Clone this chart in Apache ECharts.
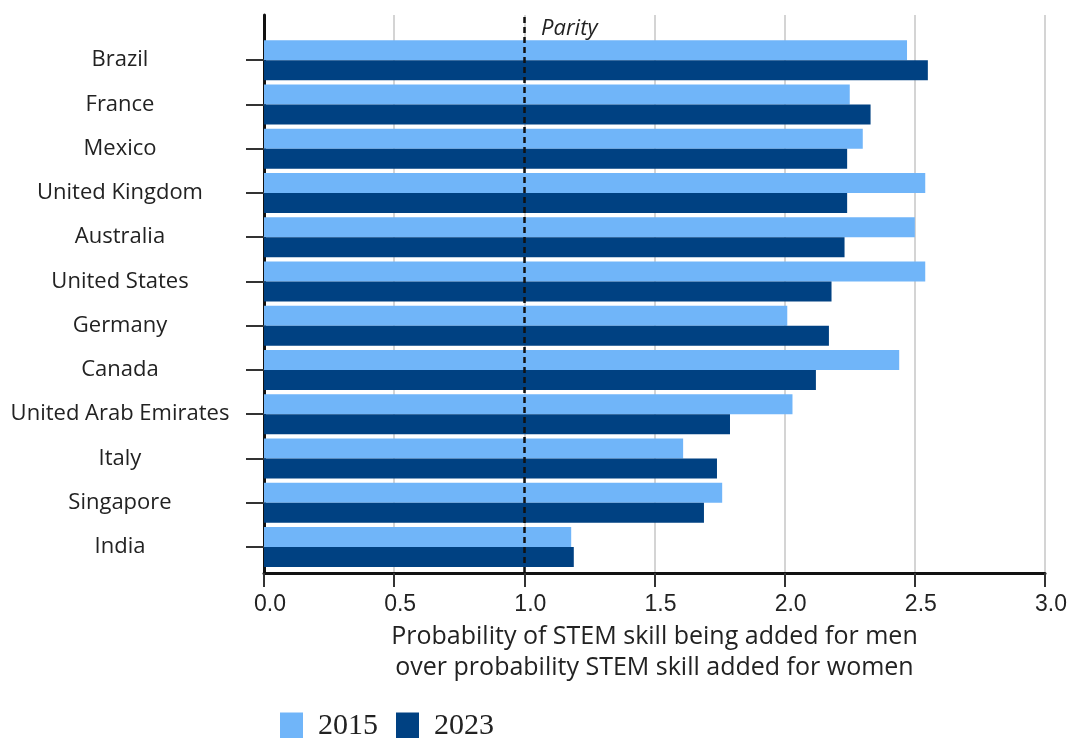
<!DOCTYPE html>
<html>
<head>
<meta charset="utf-8">
<script src="https://cdn.jsdelivr.net/npm/echarts@6/dist/echarts.min.js"></script>
<style>
  html, body { margin: 0; padding: 0; background: #fff; }
  #echart { width: 1070px; height: 738px; }
</style>
</head>
<body>
<div id="echart"></div>
<script>
var countries = ['Brazil', 'France', 'Mexico', 'United Kingdom', 'Australia', 'United States',
  'Germany', 'Canada', 'United Arab Emirates', 'Italy', 'Singapore', 'India'];
var years = ['2015', '2023'];
var values2015 = [2.47, 2.25, 2.30, 2.54, 2.50, 2.54, 2.01, 2.44, 2.03, 1.61, 1.76, 1.18];
var values2023 = [2.55, 2.33, 2.24, 2.24, 2.23, 2.18, 2.17, 2.12, 1.79, 1.74, 1.69, 1.19];
var xTicks = [0, 0.5, 1, 1.5, 2, 2.5, 3];
var parity = 1;

function showChart() {
  var myChart = echarts.init(document.getElementById('echart'));
  var option = {
    animation: false,
    title: {
      text: 'Parity',
      left: 536,
      top: 13,
      textStyle: { fontFamily: 'Open Sans', fontStyle: 'italic', fontWeight: 'normal', fontSize: 22, color: '#222' }
    },
    legend: {
      data: years,
      left: 280,
      top: 711,
      padding: 0,
      icon: 'rect',
      itemWidth: 23,
      itemHeight: 27,
      itemGap: 18,
      textStyle: { fontFamily: 'Liberation Serif', fontSize: 30, color: '#222', padding: [0, 0, 0, 10] }
    },
    grid: [
      { left: 264, right: 25, top: 15, bottom: 165 },
      { left: 264, right: 25, top: 38, bottom: 169 }
    ],
    xAxis: [
      {
        type: 'value', gridIndex: 0, min: 0, max: 3, interval: 0.5,
        axisLine: { show: true, lineStyle: { color: '#111', width: 3 } },
        axisTick: { show: true, length: 14, lineStyle: { color: '#333', width: 2 } },
        axisLabel: {
          margin: 20, fontFamily: 'Liberation Sans', fontSize: 23, color: '#222',
          padding: [0, 0, 0, 12],
          formatter: function (v) { return v.toFixed(1); }
        },
        splitLine: { show: true, lineStyle: { color: '#d4d4d4', width: 2 } },
        name: 'Probability of STEM skill being added for men\nover probability STEM skill added for women',
        nameLocation: 'middle',
        nameGap: 48,
        nameTextStyle: { fontFamily: 'Open Sans', fontSize: 25, color: '#222', lineHeight: 31 }
      },
      {
        type: 'value', gridIndex: 1, min: 0, max: 3,
        show: false
      }
    ],
    yAxis: [
      {
        type: 'value', gridIndex: 0, min: 0, max: 1,
        axisLine: { show: true, lineStyle: { color: '#111', width: 3 } },
        axisTick: { show: false },
        axisLabel: { show: false },
        splitLine: { show: false }
      },
      {
        type: 'category', gridIndex: 1, data: countries, inverse: true,
        axisLine: { show: false },
        axisTick: { show: true, alignWithLabel: true, length: 18, lineStyle: { color: '#333', width: 2 } },
        axisLabel: {
          margin: 144, align: 'center', fontFamily: 'Open Sans', fontSize: 22, color: '#222',
          padding: [4, 0, 0, 0]
        }
      }
    ],
    series: [
      {
        name: '2015', type: 'bar', xAxisIndex: 1, yAxisIndex: 1,
        data: values2015, barWidth: 20, barGap: 0,
        itemStyle: { color: '#70b5f9' }
      },
      {
        name: '2023', type: 'bar', xAxisIndex: 1, yAxisIndex: 1,
        data: values2023, barWidth: 20, barGap: 0,
        itemStyle: { color: '#004182' }
      },
      {
        name: 'parity', type: 'scatter', xAxisIndex: 0, yAxisIndex: 0, data: [],
        markLine: {
          silent: true, symbol: 'none', label: { show: false },
          lineStyle: { color: '#111', width: 2.5, type: [6, 4] },
          data: [{ xAxis: parity }]
        }
      }
    ]
  };
  myChart.setOption(option);
}
showChart();
</script>
</body>
</html>
